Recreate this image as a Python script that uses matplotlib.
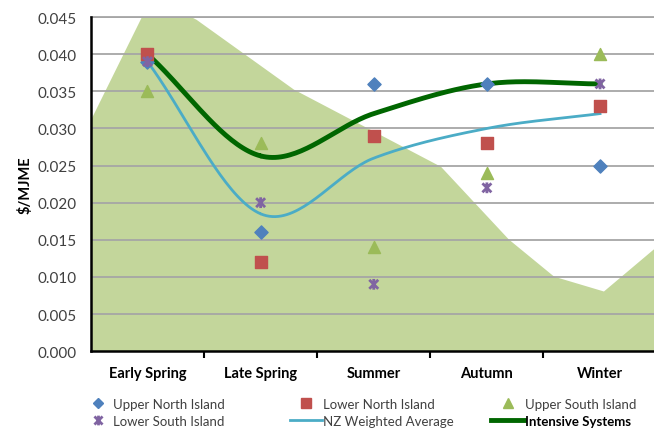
import numpy as np
import matplotlib
matplotlib.use("Agg")
import matplotlib.pyplot as plt
from matplotlib.path import Path
from matplotlib.lines import Line2D

plt.rcParams["font.family"] = ["Lato", "DejaVu Sans"]

seasons = ["Early Spring", "Late Spring", "Summer", "Autumn", "Winter"]
upper_north = [0.039, 0.016, 0.036, 0.036, 0.025]
lower_north = [0.040, 0.012, 0.029, 0.028, 0.033]
upper_south = [0.035, 0.028, 0.014, 0.024, 0.040]
lower_south = [0.039, 0.020, 0.009, 0.022, 0.036]
nz_average = [0.039, 0.0185, 0.026, 0.030, 0.032]
intensive = [0.040, 0.0263, 0.032, 0.036, 0.036]

# background pasture-growth shape (category units / $ per MJME)
bg_x = [-0.5, -0.02, 0.29, 0.43, 1.29, 2.59, 3.19, 3.59, 4.03, 4.52]
bg_y = [0.0313, 0.0461, 0.0458, 0.0447, 0.0353, 0.0249, 0.0151, 0.0101, 0.0081, 0.0144]

BLUE, RED, GREEN, PURPLE = "#4F81BD", "#C0504D", "#9BBB59", "#8064A2"
TEAL, DKGREEN, AREA = "#4BACC6", "#006600", "#C3D69B"

# Excel-style star marker: X with a vertical bar
star = Path([(-1, -1), (1, 1), (-1, 1), (1, -1), (0, -1.2), (0, 1.2)],
            [Path.MOVETO, Path.LINETO, Path.MOVETO, Path.LINETO, Path.MOVETO, Path.LINETO])


def smooth(y, n=40):
    # Catmull-Rom curve, like Excel's smoothed line
    y = np.asarray(y, float)
    x = np.arange(len(y), dtype=float)
    px = np.concatenate([[2 * x[0] - x[1]], x, [2 * x[-1] - x[-2]]])
    py = np.concatenate([[2 * y[0] - y[1]], y, [2 * y[-1] - y[-2]]])
    xs, ys = [], []
    t = np.linspace(0, 1, n)
    for i in range(1, len(px) - 2):
        for p, out in ((px, xs), (py, ys)):
            p0, p1, p2, p3 = p[i - 1], p[i], p[i + 1], p[i + 2]
            out.append(0.5 * (2 * p1 + (-p0 + p2) * t + (2 * p0 - 5 * p1 + 4 * p2 - p3) * t ** 2
                              + (-p0 + 3 * p1 - 3 * p2 + p3) * t ** 3))
    return np.concatenate(xs), np.concatenate(ys)


fig = plt.figure(figsize=(6.54, 4.31), dpi=100)
ax = fig.add_axes([0.139, 0.183, 0.865, 0.775])

ax.fill_between(bg_x, 0, bg_y, color=AREA, lw=0, zorder=0)
for v in np.arange(0.005, 0.0451, 0.005):
    ax.axhline(v, color="#A6A6A6", lw=1.3, zorder=1)

x = np.arange(len(seasons))
sx, sy = smooth(nz_average)
ax.plot(sx, sy, color=TEAL, lw=2, zorder=3)
sx, sy = smooth(intensive)
ax.plot(sx, sy, color=DKGREEN, lw=3.5, zorder=3)

ax.scatter(x, upper_north, marker="D", s=45, color=BLUE, zorder=4)
ax.scatter(x, lower_north, marker="s", s=70, color=RED, zorder=4)
ax.scatter(x, upper_south, marker="^", s=75, color=GREEN, zorder=4)
ax.scatter(x, lower_south, marker=star, s=60, facecolor="none", edgecolor=PURPLE,
           linewidths=2, zorder=5)

ax.set_xlim(-0.5, 4.5)
ax.set_ylim(0, 0.045)
ax.set_yticks(np.arange(0, 0.0451, 0.005))
ax.set_yticklabels([f"{v:.3f}" for v in np.arange(0, 0.0451, 0.005)], fontsize=11, color="#404040")
ax.set_xticks(x)
ax.set_xticklabels(seasons, fontsize=10.5, fontweight="bold")
ax.set_xticks(np.arange(0.5, 4.5, 1), minor=True)
ax.tick_params(axis="x", which="major", length=0, pad=11)
ax.tick_params(axis="x", which="minor", length=5, width=1.5, direction="out")
ax.tick_params(axis="y", length=0, pad=10)
ax.set_ylabel("$/MJME", fontsize=10.5, fontweight="bold", labelpad=4)

for s in ("top", "right"):
    ax.spines[s].set_visible(False)
ax.spines["left"].set_linewidth(1.8)
ax.spines["bottom"].set_linewidth(1.8)
ax.axhline(0.045, color="#A6A6A6", lw=1.3, zorder=1, clip_on=False)

# legend: three columns placed like Excel's evenly spaced layout
cols = [
    ([Line2D([], [], ls="none", marker="D", ms=5, color=BLUE),
      Line2D([], [], ls="none", marker=star, ms=7, mec=PURPLE, mfc="none", mew=2)],
     ["Upper North Island", "Lower South Island"], 0.1376, 1.15, 0.6),
    ([Line2D([], [], ls="none", marker="s", ms=7, color=RED),
      Line2D([], [], color=TEAL, lw=2)],
     ["Lower North Island", "NZ Weighted Average"], 0.4434, 2.4, 0.08),
    ([Line2D([], [], ls="none", marker="^", ms=7, color=GREEN),
      Line2D([], [], color=DKGREEN, lw=3.5)],
     ["Upper South Island", "Intensive Systems"], 0.751, 2.5, 0.08),
]
for hs, ls, bx, hl, hp in cols:
    leg = fig.legend(hs, ls, loc="upper left", bbox_to_anchor=(bx, 0.075), frameon=False,
                     fontsize=9.5, handlelength=hl, handletextpad=hp,
                     labelspacing=0.4, borderpad=0, borderaxespad=0)
    for t in leg.get_texts():
        t.set_color("#404040")
leg.get_texts()[-1].set_fontweight("bold")
leg.get_texts()[-1].set_color("black")

fig.savefig("out.png", dpi=100)
